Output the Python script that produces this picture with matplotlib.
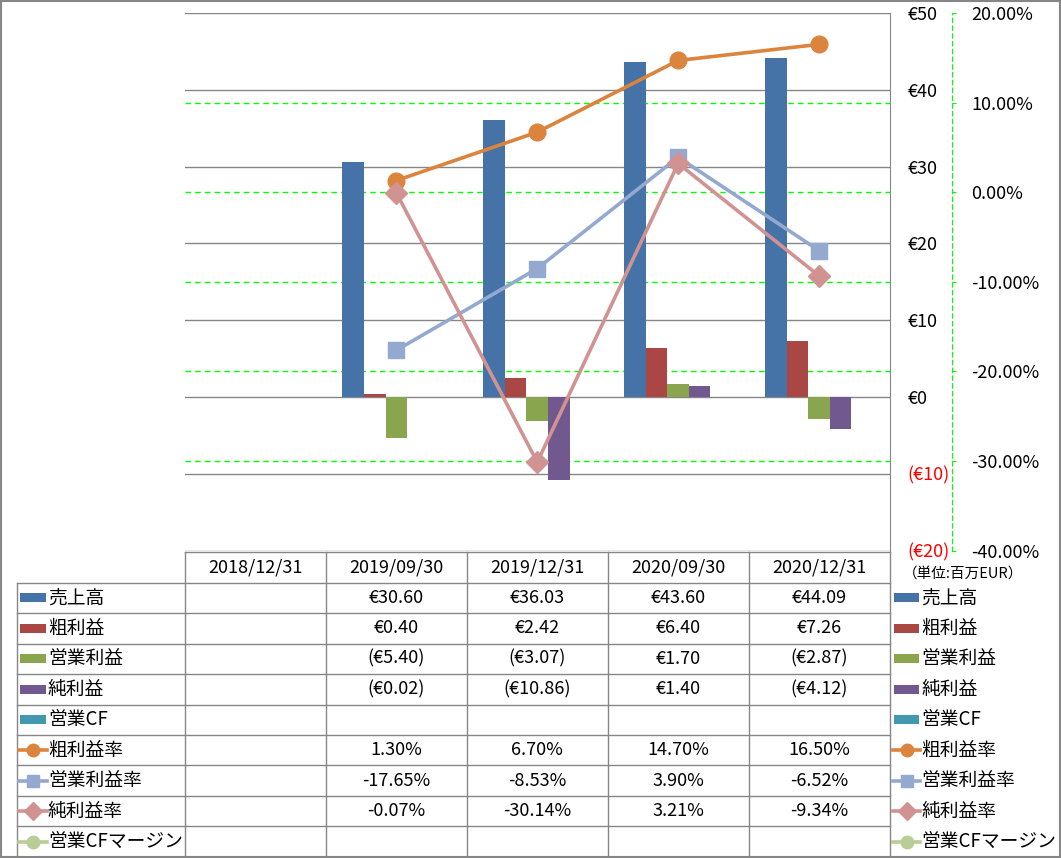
import matplotlib
matplotlib.use('Agg')
import matplotlib.pyplot as plt
from matplotlib.patches import Rectangle
from matplotlib.transforms import blended_transform_factory
import numpy as np

plt.rcParams['font.family'] = ['Noto Sans CJK JP', 'DejaVu Sans']

dates = ['2018/12/31', '2019/09/30', '2019/12/31', '2020/09/30', '2020/12/31']

# bars (百万EUR)
sales = [np.nan, 30.60, 36.03, 43.60, 44.09]
gross = [np.nan, 0.40, 2.42, 6.40, 7.26]
oper = [np.nan, -5.40, -3.07, 1.70, -2.87]
net = [np.nan, -0.02, -10.86, 1.40, -4.12]
ocf = [np.nan] * 5

# lines (%)
gross_m = [np.nan, 1.30, 6.70, 14.70, 16.50]
oper_m = [np.nan, -17.65, -8.53, 3.90, -6.52]
net_m = [np.nan, -0.07, -30.14, 3.21, -9.34]
ocf_m = [np.nan] * 5

bar_names = ['売上高', '粗利益', '営業利益', '純利益', '営業CF']
bar_vals = [sales, gross, oper, net, ocf]
bar_colors = ['#4572A7', '#AA4643', '#89A54E', '#71588F', '#4198AF']

line_names = ['粗利益率', '営業利益率', '純利益率', '営業CFマージン']
line_vals = [gross_m, oper_m, net_m, ocf_m]
line_colors = ['#DB843D', '#93A9CF', '#D19392', '#B9CD96']
line_markers = ['o', 's', 'D', 'o']
line_msize = [12, 11, 11, 12]

W, H = 1061, 858
fig = plt.figure(figsize=(W / 100, H / 100), dpi=100)

# plot area in pixels
px0, px1, py0, py1 = 185, 889.5, 13, 550.5
ax = fig.add_axes([px0 / W, (H - py1) / H, (px1 - px0) / W, (py1 - py0) / H])
ax2 = ax.twinx()

x = np.arange(len(dates))
bw = 0.153
for i, (vals, c) in enumerate(zip(bar_vals, bar_colors)):
    ax.bar(x + (i - 2) * bw, vals, width=bw, color=c, zorder=2)

ax.set_xlim(-0.5, 4.5)
ax.set_ylim(-20, 50)
ax.set_xticks([])
yt = [50, 40, 30, 20, 10, 0, -10, -20]
ax.yaxis.tick_right()
ax.set_yticks(yt)
ax.set_yticklabels([f'€{v}' if v >= 0 else f'(€{-v})' for v in yt])
ax.tick_params(axis='y', length=0, pad=13, labelsize=13)
for tk, v in zip(ax.yaxis.get_major_ticks(), yt):
    tk.label2.set_color('red' if v < 0 else 'black')
ax.yaxis.grid(True, color='#868686', lw=1)
ax.set_axisbelow(True)
for s in ['left', 'top', 'bottom']:
    ax.spines[s].set_visible(False)
ax.spines['right'].set_color('#868686')

# secondary axis (%)
ax2.set_ylim(-40, 20)
pt = [20, 10, 0, -10, -20, -30, -40]
ax2.set_yticks(pt)
ax2.set_yticklabels([f'{v:.2f}%' for v in pt])
ax2.tick_params(axis='y', length=3, color='#00FF00', pad=11, labelsize=13)
for tk, v in zip(ax2.yaxis.get_major_ticks(), pt):
    tk.label2.set_color('red' if v < 0 else 'black')
ax2.spines['right'].set_position(('outward', 45))
ax2.spines['right'].set_color('#00FF00')
ax2.spines['right'].set_linestyle((0, (4, 3)))
for s in ['left', 'top', 'bottom']:
    ax2.spines[s].set_visible(False)

# green dashed gridlines of the % axis, drawn behind bars
tr = blended_transform_factory(ax.transAxes, ax2.transData)
for v in [10, 0, -10, -20, -30]:
    ax.plot([0, 1], [v, v], transform=tr, color='#00FF00', lw=1,
            ls=(0, (4, 3)), zorder=1)

for vals, c, m, ms in zip(line_vals, line_colors, line_markers, line_msize):
    ax2.plot(x, vals, color=c, lw=2.6, marker=m, markersize=ms,
             markerfacecolor=c, markeredgecolor=c, zorder=3)

# data table + legends in pixel coordinates
at = fig.add_axes([0, 0, 1, 1])
at.set_xlim(0, W)
at.set_ylim(H, 0)
at.axis('off')

gray = '#868686'
cw = (px1 - px0) / len(dates)
top = 551.5
hh = 31.2
rh = 30.45
nrows = len(bar_names) + len(line_names)
bottom = top + hh + rh * nrows
col_edges = [px0 + cw * i for i in range(len(dates) + 1)]
row_edges = [top + hh + rh * i for i in range(nrows + 1)]

at.plot([px0, px1], [top, top], color=gray, lw=1)
for y in row_edges[:-1]:
    at.plot([16.5, px1], [y, y], color=gray, lw=1)
for xe in col_edges:
    at.plot([xe, xe], [top, bottom], color=gray, lw=1)
at.plot([16.5, 16.5], [row_edges[0], bottom], color=gray, lw=1)

for i, d in enumerate(dates):
    at.text(px0 + cw * (i + 0.5), top + hh / 2, d, ha='center', va='center',
            fontsize=13)


def fmt_eur(v):
    if np.isnan(v):
        return ''
    return f'€{v:.2f}' if v >= 0 else f'(€{-v:.2f})'


def fmt_pct(v):
    if np.isnan(v):
        return ''
    return f'{v:.2f}%'


rows = [(n, v, fmt_eur, ('bar', c)) for n, v, c in zip(bar_names, bar_vals, bar_colors)]
rows += [(n, v, fmt_pct, ('line', c, m)) for n, v, c, m in
         zip(line_names, line_vals, line_colors, line_markers)]


def draw_key(xa, xb, yc, key):
    if key[0] == 'bar':
        at.add_patch(Rectangle((xa, yc - 4.5), xb - xa, 9, color=key[1], lw=0))
    else:
        at.plot([xa - 1, xb + 1], [yc, yc], color=key[1], lw=2.6)
        at.plot([(xa + xb) / 2], [yc], marker=key[2], markersize=9,
                color=key[1])


for r, (name, vals, f, key) in enumerate(rows):
    yc = row_edges[r] + rh / 2
    for i, v in enumerate(vals):
        at.text(px0 + cw * (i + 0.5), yc, f(v), ha='center', va='center',
                fontsize=13)
    draw_key(20, 46, yc, key)
    at.text(48, yc, name, ha='left', va='center', fontsize=13.5)
    draw_key(894, 919, yc, key)
    at.text(921, yc, name, ha='left', va='center', fontsize=13.5)

at.text(903, 574, '（単位:百万EUR）', ha='left', va='center', fontsize=10.5)

at.add_patch(Rectangle((1, 1), W - 2.5, H - 2.5, fill=False, edgecolor=gray,
                       lw=1.5))

fig.savefig('out.png', dpi=100)
